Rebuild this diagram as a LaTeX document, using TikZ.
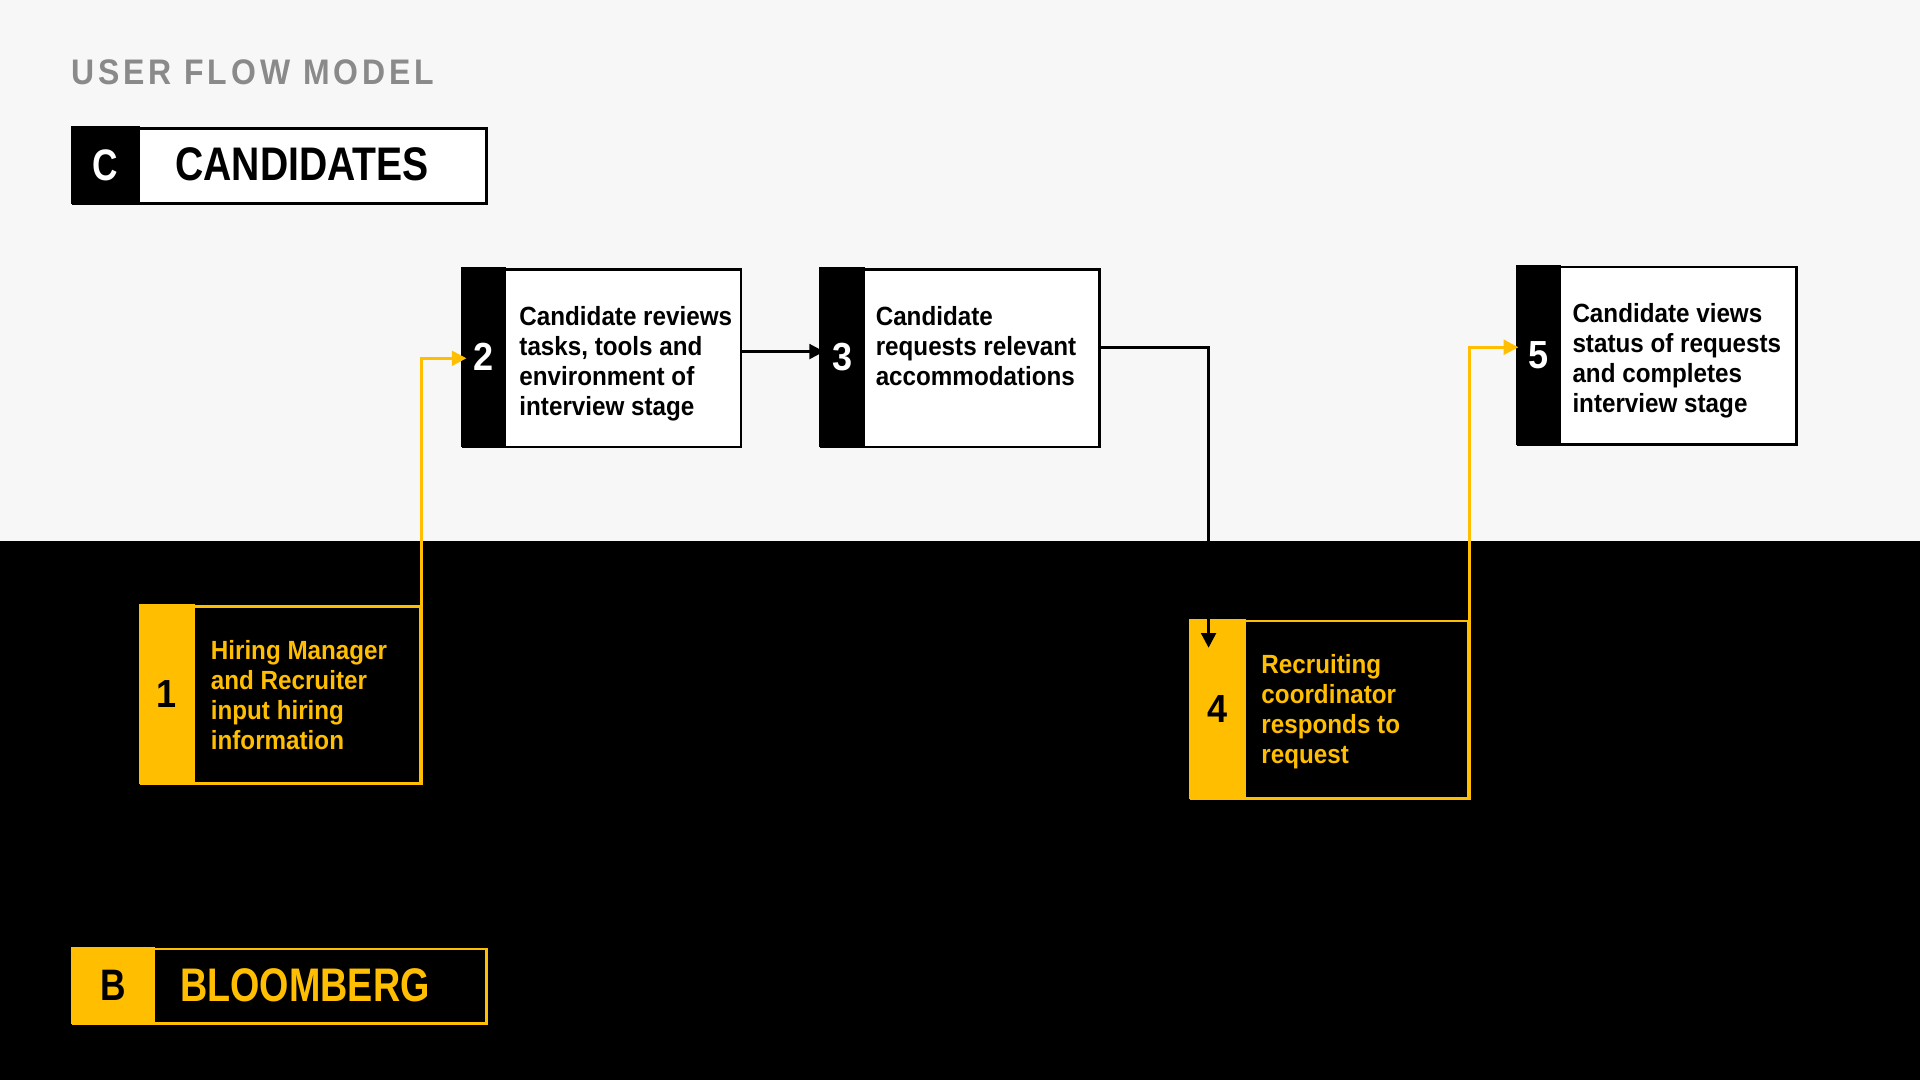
\documentclass[tikz,border=0pt]{standalone}
\usepackage{fontspec}
\setmainfont{Liberation Sans}[FakeStretch=0.92]
\newfontfamily\headfont{Liberation Sans}[FakeStretch=0.8]
\newfontfamily\candfont{Liberation Sans}[FakeStretch=0.83]
\newfontfamily\titlefont{Liberation Sans}[FakeStretch=0.9,LetterSpace=11]
\usetikzlibrary{arrows.meta}
\definecolor{ylw}{HTML}{FFBF00}
\definecolor{bgl}{HTML}{F7F7F7}
\definecolor{ttl}{HTML}{8A8A8A}
\begin{document}
\begin{tikzpicture}[x=1pt,y=-1pt,
  wbox/.style={draw=black, line width=2.2pt, fill=white, minimum width=227pt, minimum height=145pt, anchor=north west, inner sep=0pt},
  kbox/.style={draw=ylw, line width=2.2pt, fill=black, minimum width=228pt, minimum height=145pt, anchor=north west, inner sep=0pt},
  kstrip/.style={fill=black, text=white, minimum width=37pt, minimum height=147pt, anchor=north west, inner sep=0pt, font=\fontsize{32}{32}\selectfont\bfseries},
  ystrip/.style={fill=ylw, text=black, minimum width=46pt, minimum height=147pt, anchor=north west, inner sep=0pt, font=\fontsize{32}{32}\selectfont\bfseries},
  btext/.style={anchor=north west, inner sep=0pt, align=left, font=\fontsize{21.5}{24.5}\selectfont\bfseries},
  conn/.style={line width=2.4pt, -{Triangle[length=12pt,width=12pt]}},
  head/.style={inner sep=0pt}
]
\useasboundingbox (0,0) rectangle (1568,882);
\fill[bgl] (0,0) rectangle (1568,442);
\fill[black] (0,442) rectangle (1568,882);

% title
\node[anchor=base west, inner sep=0pt, text=ttl, font=\titlefont\fontsize{29}{29}\selectfont\bfseries] (title) at (58,69) {USER FLOW MODEL};

% candidates header
\node[draw=black, line width=2.2pt, fill=white, anchor=north west, minimum width=337pt, minimum height=61pt, inner sep=0pt] (hc) at (59,104) {};
\node[fill=black, text=white, anchor=north west, minimum width=56pt, minimum height=63pt, inner sep=0pt, font=\headfont\fontsize{36}{36}\selectfont\bfseries] (hcl) at (58,103) {C};
\node[head, anchor=west, text=black, font=\candfont\fontsize{38.5}{40}\selectfont\bfseries] (hct) at (143,134.5) {CANDIDATES};

% bloomberg header
\node[draw=ylw, line width=2.2pt, fill=black, anchor=north west, minimum width=337pt, minimum height=61pt, inner sep=0pt] (hb) at (59,774) {};
\node[fill=ylw, text=black, anchor=north west, minimum width=68pt, minimum height=63pt, inner sep=0pt, font=\headfont\fontsize{36}{36}\selectfont\bfseries] (hbl) at (58,773) {B};
\node[head, anchor=west, text=ylw, font=\headfont\fontsize{38.5}{40}\selectfont\bfseries] (hbt) at (147,805) {BLOOMBERG};

% box 1
\node[kbox] (b1) at (114,494) {};
\node[ystrip] (n1) at (113,493) {1};
\node[btext, text=ylw] (t1) at (172,523) {Hiring Manager\\and Recruiter\\input hiring\\information};

% box 2
\node[wbox] (b2) at (377,219) {};
\node[kstrip] (n2) at (376,218) {2};
\node[btext, text=black] (t2) at (424,250) {Candidate reviews\\tasks, tools and\\environment of\\interview stage};

% box 3
\node[wbox] (b3) at (670,219) {};
\node[kstrip] (n3) at (669,218) {3};
\node[btext, text=black] (t3) at (715,250) {Candidate\\requests relevant\\accommodations};

% box 4
\node[kbox, minimum width=226pt] (b4) at (972,506) {};
\node[ystrip] (n4) at (971,505) {4};
\node[btext, text=ylw] (t4) at (1030,534) {Recruiting\\coordinator\\responds to\\request};

% box 5
\node[wbox] (b5) at (1239,217) {};
\node[kstrip] (n5) at (1238,216) {5};
\node[btext, text=black] (t5) at (1284,248) {Candidate views\\status of requests\\and completes\\interview stage};

% connectors
\draw[conn, ylw, shorten >=-4pt] (b1.south east) |- (b2.west);
\draw[conn, black, shorten >=-3pt] ([yshift=5.5pt]b2.east) -- ([yshift=5.5pt]b3.west);
\draw[conn, black] ([yshift=8.5pt]b3.east) -| ([xshift=15pt,yshift=-23pt]b4.north west);
\draw[conn, ylw, shorten >=-1pt] (b4.south east) |- ([yshift=7pt]b5.west);
\end{tikzpicture}
\end{document}
